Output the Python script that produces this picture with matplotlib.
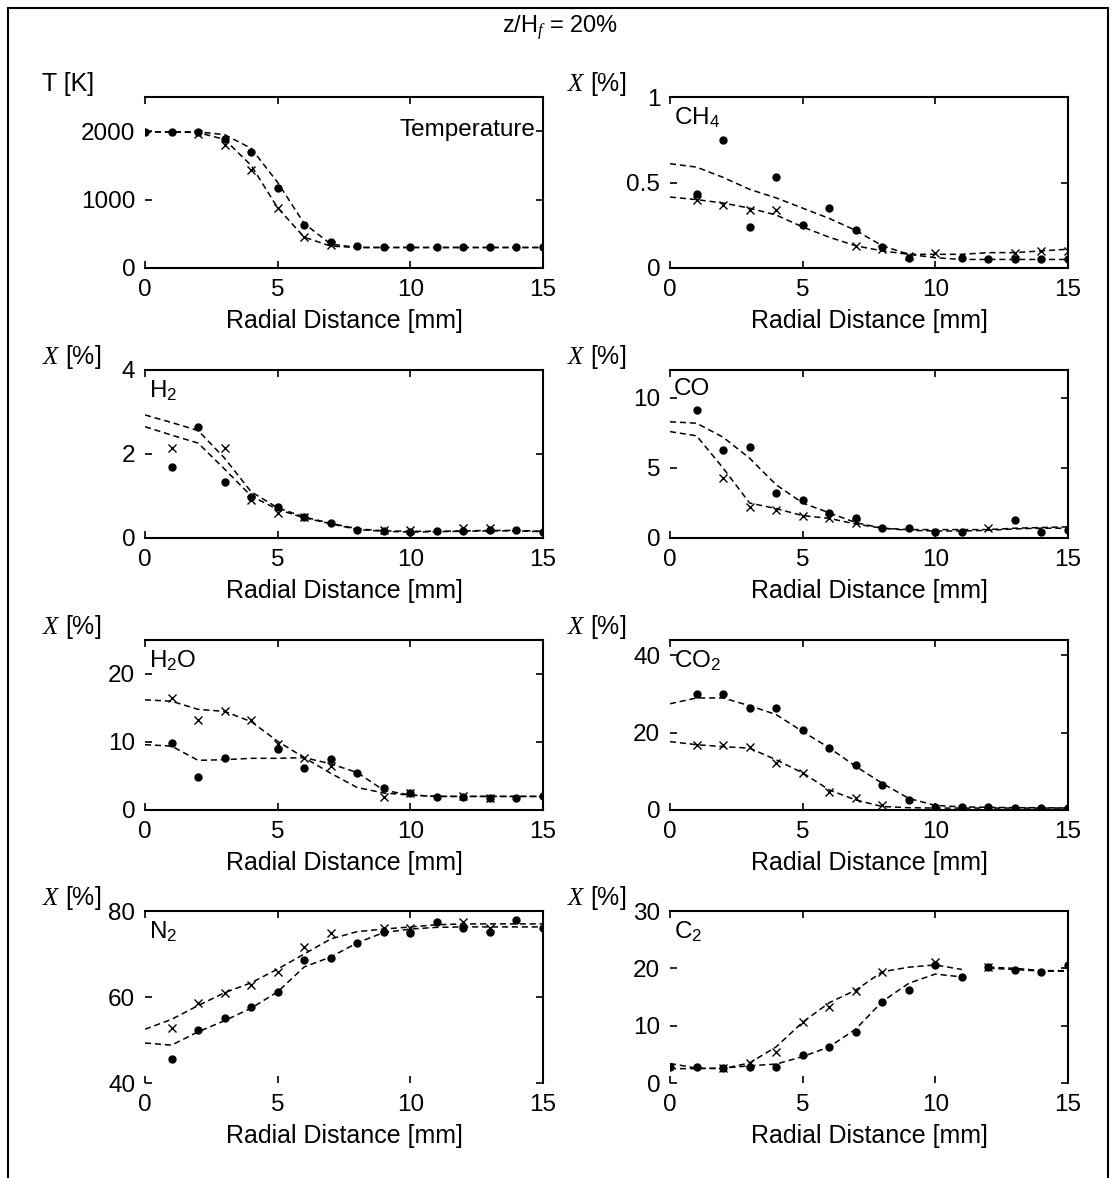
import numpy as np
import matplotlib
matplotlib.use('Agg')
import matplotlib.pyplot as plt
from matplotlib.patches import Rectangle

plt.rcParams['font.family'] = ['Liberation Sans', 'DejaVu Sans']
plt.rcParams['mathtext.fontset'] = 'custom'
plt.rcParams['mathtext.rm'] = 'Liberation Sans'
plt.rcParams['mathtext.it'] = 'Liberation Serif:italic'

nan = np.nan

# radial grid for the model curves [mm]
R_FIT = list(range(16))
C2_FIT_R = [0, 1, 2, 3, 4, 5, 6, 7, 8, 9, 10, 11, 11.5, 12, 13, 14, 15]

# temperature [K]
T_DOT_R = list(range(16))
T_DOT = [1990, 1990, 1990, 1880, 1700, 1170, 630, 380, 320, 300, 300, 300, 300, 300, 300, 300]
T_X_R = [2, 3, 4, 5, 6, 7]
T_X = [1960, 1800, 1430, 880, 450, 330]
T_FIT_DOT = [1990, 1990, 1990, 1950, 1750, 1250, 650, 350, 300, 300, 300, 300, 300, 300, 300, 300]
T_FIT_X = [1990, 1990, 1980, 1880, 1500, 880, 450, 320, 300, 300, 300, 300, 300, 300, 300, 300]

# CH4 [%]
CH4_DOT_R = [1, 2, 3, 4, 5, 6, 7, 8, 9, 11, 12, 13, 14, 15]
CH4_DOT = [0.43, 0.75, 0.24, 0.53, 0.25, 0.35, 0.22, 0.12, 0.06, 0.06, 0.05, 0.05, 0.05, 0.05]
CH4_X_R = [1, 2, 3, 4, 7, 8, 9, 10, 13, 14, 15]
CH4_X = [0.40, 0.37, 0.34, 0.34, 0.13, 0.11, 0.07, 0.09, 0.09, 0.10, 0.10]
CH4_FIT_DOT = [0.61, 0.59, 0.53, 0.46, 0.41, 0.35, 0.29, 0.22, 0.13, 0.08, 0.06, 0.05, 0.05, 0.05, 0.05, 0.05]
CH4_FIT_X = [0.415, 0.40, 0.38, 0.35, 0.31, 0.24, 0.18, 0.13, 0.10, 0.08, 0.08, 0.08, 0.09, 0.09, 0.10, 0.11]

# H2 [%]
H2_DOT_R = list(range(1, 16))
H2_DOT = [1.69, 2.64, 1.33, 0.98, 0.74, 0.50, 0.36, 0.19, 0.17, 0.14, 0.17, 0.17, 0.19, 0.19, 0.14]
H2_X_R = [1, 3, 4, 5, 6, 9, 10, 12, 13]
H2_X = [2.14, 2.14, 0.90, 0.60, 0.50, 0.20, 0.20, 0.25, 0.25]
H2_FIT_DOT = [2.93, 2.75, 2.56, 1.90, 1.10, 0.72, 0.50, 0.35, 0.22, 0.17, 0.16, 0.16, 0.17, 0.18, 0.18, 0.16]
H2_FIT_X = [2.65, 2.45, 2.26, 1.64, 1.00, 0.68, 0.48, 0.34, 0.20, 0.16, 0.14, 0.15, 0.16, 0.17, 0.17, 0.15]

# CO [%]
CO_DOT_R = [1, 2, 3, 4, 5, 6, 7, 8, 9, 10, 11, 13, 14, 15]
CO_DOT = [9.15, 6.3, 6.5, 3.2, 2.7, 1.8, 1.4, 0.7, 0.7, 0.4, 0.4, 1.3, 0.4, 0.55]
CO_X_R = [2, 3, 4, 5, 6, 7, 12]
CO_X = [4.3, 2.2, 2.0, 1.6, 1.4, 1.1, 0.7]
CO_FIT_DOT = [8.3, 8.2, 7.2, 5.7, 3.8, 2.5, 1.8, 1.1, 0.7, 0.55, 0.5, 0.5, 0.55, 0.65, 0.7, 0.7]
CO_FIT_X = [7.6, 7.3, 5.0, 2.5, 2.1, 1.6, 1.4, 1.0, 0.7, 0.6, 0.6, 0.6, 0.6, 0.7, 0.75, 0.8]

# H2O [%]
H2O_DOT_R = [1, 2, 3, 5, 6, 7, 8, 9, 10, 11, 12, 13, 14, 15]
H2O_DOT = [9.85, 4.8, 7.7, 9.0, 6.2, 7.5, 5.5, 3.3, 2.5, 1.9, 1.9, 1.7, 1.7, 2.0]
H2O_X_R = [1, 2, 3, 4, 5, 6, 7, 9, 10, 12, 13]
H2O_X = [16.4, 13.3, 14.5, 13.3, 9.7, 7.7, 6.5, 1.9, 2.5, 2.1, 1.7]
H2O_FIT_DOT = [9.6, 9.4, 7.3, 7.4, 7.6, 7.6, 7.7, 6.8, 5.5, 2.9, 2.2, 2.0, 2.0, 2.0, 2.0, 2.0]
H2O_FIT_X = [16.2, 16.0, 14.8, 14.5, 13.0, 10.1, 7.7, 5.4, 3.3, 2.5, 2.2, 2.0, 2.0, 2.0, 2.0, 2.0]

# CO2 [%]
CO2_DOT_R = list(range(1, 16))
CO2_DOT = [29.9, 29.9, 26.5, 26.5, 20.8, 16.1, 11.7, 6.5, 2.6, 0.8, 0.8, 0.7, 0.6, 0.6, 0.5]
CO2_X_R = [1, 2, 3, 4, 5, 6, 7, 8]
CO2_X = [16.9, 16.9, 16.4, 12.2, 9.6, 4.7, 3.2, 1.2]
CO2_FIT_DOT = [27.5, 29.0, 29.0, 27.0, 24.7, 20.3, 16.1, 11.3, 6.9, 3.0, 1.2, 0.8, 0.7, 0.6, 0.6, 0.5]
CO2_FIT_X = [17.7, 16.9, 16.4, 16.0, 13.0, 9.6, 5.2, 2.6, 0.9, 0.6, 0.5, 0.5, 0.5, 0.5, 0.5, 0.5]

# N2 [%]
N2_DOT_R = list(range(1, 16))
N2_DOT = [45.6, 52.3, 55.1, 57.7, 61.2, 68.6, 69.1, 72.6, 75.1, 74.9, 77.4, 76.0, 75.1, 77.9, 76.0]
N2_X_R = [1, 2, 3, 4, 5, 6, 7, 9, 10, 12, 13]
N2_X = [52.8, 58.5, 61.0, 62.8, 65.8, 71.6, 74.9, 76.0, 76.0, 77.4, 76.0]
N2_FIT_DOT = [49.3, 48.8, 51.9, 54.5, 57.4, 61.2, 67.0, 69.3, 72.6, 75.0, 75.8, 76.2, 76.3, 76.3, 76.3, 76.3]
N2_FIT_X = [52.5, 54.8, 58.0, 61.0, 63.3, 66.5, 70.0, 73.5, 75.2, 75.8, 76.3, 76.8, 77.0, 77.0, 77.0, 77.0]

# C2 [%]
C2_DOT_R = list(range(16))
C2_DOT = [2.8, 2.8, 2.6, 2.8, 2.8, 4.9, 6.3, 8.9, 14.1, 16.2, 20.6, 18.5, 20.2, 19.7, 19.4, 20.6]
C2_X_R = [2, 3, 4, 5, 6, 7, 8, 10, 12]
C2_X = [2.6, 3.5, 5.4, 10.6, 13.3, 16.0, 19.4, 21.1, 20.3]
C2_FIT_DOT = [2.5, 2.5, 2.6, 3.0, 3.3, 4.6, 6.3, 9.4, 14.2, 17.4, 19.0, 18.5, nan, 20.0, 19.8, 19.5, 19.5]
C2_FIT_X = [3.4, 2.6, 2.5, 3.5, 6.3, 10.6, 14.0, 16.2, 19.4, 20.2, 20.6, 19.8, nan, 20.2, 20.0, 19.6, 19.6]

panels = [
    # label, ylabel, ylim, yticks, dots, crosses, fits
    ('Temperature', 'T [K]', (0, 2500), [0, 1000, 2000],
     (T_DOT_R, T_DOT), (T_X_R, T_X), (R_FIT, T_FIT_DOT, T_FIT_X)),
    ('CH$_4$', '$X$ [%]', (0, 1), [0, 0.5, 1],
     (CH4_DOT_R, CH4_DOT), (CH4_X_R, CH4_X), (R_FIT, CH4_FIT_DOT, CH4_FIT_X)),
    ('H$_2$', '$X$ [%]', (0, 4), [0, 2, 4],
     (H2_DOT_R, H2_DOT), (H2_X_R, H2_X), (R_FIT, H2_FIT_DOT, H2_FIT_X)),
    ('CO', '$X$ [%]', (0, 12), [0, 5, 10],
     (CO_DOT_R, CO_DOT), (CO_X_R, CO_X), (R_FIT, CO_FIT_DOT, CO_FIT_X)),
    ('H$_2$O', '$X$ [%]', (0, 25), [0, 10, 20],
     (H2O_DOT_R, H2O_DOT), (H2O_X_R, H2O_X), (R_FIT, H2O_FIT_DOT, H2O_FIT_X)),
    ('CO$_2$', '$X$ [%]', (0, 44), [0, 20, 40],
     (CO2_DOT_R, CO2_DOT), (CO2_X_R, CO2_X), (R_FIT, CO2_FIT_DOT, CO2_FIT_X)),
    ('N$_2$', '$X$ [%]', (40, 80), [40, 60, 80],
     (N2_DOT_R, N2_DOT), (N2_X_R, N2_X), (R_FIT, N2_FIT_DOT, N2_FIT_X)),
    ('C$_2$', '$X$ [%]', (0, 30), [0, 10, 20, 30],
     (C2_DOT_R, C2_DOT), (C2_X_R, C2_X), (C2_FIT_R, C2_FIT_DOT, C2_FIT_X)),
]

W, H = 1116, 1178
fig = plt.figure(figsize=(W / 100, H / 100), dpi=100)

col_x = [145, 670]
col_w = 398
rows = [(97, 268), (370, 538), (640, 810), (911, 1083)]

for i, (label, ylab, ylim, yticks, dots, crosses, fits) in enumerate(panels):
    row, col = divmod(i, 2)
    top, bot = rows[row]
    ax = fig.add_axes([col_x[col] / W, 1 - bot / H, col_w / W, (bot - top) / H])

    r_fit, fit_dot, fit_x = fits
    ax.plot(r_fit, fit_dot, color='black', lw=1.1, dashes=(4, 2.5))
    ax.plot(r_fit, fit_x, color='black', lw=1.1, dashes=(4, 2.5))
    ax.plot(dots[0], dots[1], 'o', color='black', ms=5, ls='none')
    ax.plot(crosses[0], crosses[1], 'x', color='black', ms=6, mew=1.0, ls='none')

    ax.set_xlim(0, 15)
    ax.set_ylim(*ylim)
    ax.set_xticks([0, 5, 10, 15])
    ax.set_yticks(yticks)
    ax.set_yticklabels([('%g' % t) for t in yticks])
    ax.tick_params(direction='in', length=5, width=1.2, top=True, right=True,
                   labelsize=17.5)
    ax.tick_params(axis='x', pad=8)
    ax.tick_params(axis='y', pad=7)
    ax.spines['left'].set_visible(False)
    if row == 3:
        ax.spines['bottom'].set_visible(False)
    for s in ('top', 'right', 'bottom'):
        ax.spines[s].set_linewidth(1.5)

    ax.set_xlabel('Radial Distance [mm]', fontsize=18, labelpad=6)
    ax.text(-0.26, 1.075, ylab, transform=ax.transAxes, fontsize=18,
            ha='left', va='center')

    if label == 'Temperature':
        ax.text(0.98, 0.87, label, transform=ax.transAxes, fontsize=17.5,
                ha='right', va='top')
    else:
        ax.text(0.01, 0.95, label, transform=ax.transAxes, fontsize=17.5,
                ha='left', va='top')

fig.text(560 / W, 1 - 28 / H, 'z/H$_f$ = 20%', fontsize=17, ha='center', va='center')

# frame round the figure
fig.patches.append(Rectangle((8 / W, -0.02), 1100 / W, 1.02 - 8 / H,
                             transform=fig.transFigure, fill=False,
                             edgecolor='black', lw=1.5))

plt.savefig('out.png', dpi=100)
plt.close()
